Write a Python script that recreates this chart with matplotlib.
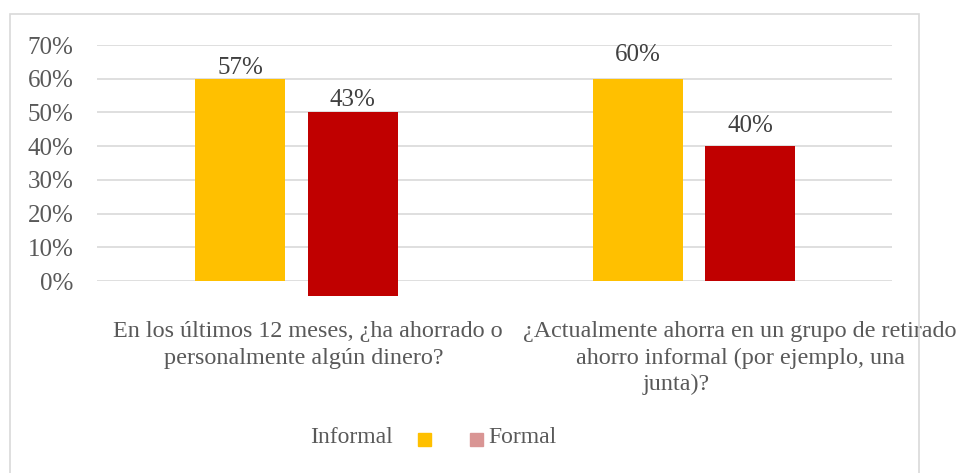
import matplotlib.pyplot as plt
from matplotlib.patches import Rectangle
from matplotlib.transforms import blended_transform_factory

# data (bar tops as drawn, labels as printed)
categories = ["En los últimos 12 meses, ¿ha ahorrado o\npersonalmente algún dinero?",
              "¿Actualmente ahorra en un grupo de retirado\nahorro informal (por ejemplo, una\njunta)?"]
informal = [0.60, 0.60]
formal = [0.50, 0.40]
formal_base = [-0.045, 0.0]
informal_labels = ['57%', '60%']
formal_labels = ['43%', '40%']
yticks = [0, 0.1, 0.2, 0.3, 0.4, 0.5, 0.6, 0.7]

yellow = '#FFC000'
red = '#C00000'
pink = '#D99594'
grid_c = '#D9D9D9'
txt_c = '#595959'
font = 'Liberation Serif'

fig = plt.figure(figsize=(9.57, 4.73), dpi=100)
ax = fig.add_axes([97/957, 1-281/473, 795/957, 236/473])

x = list(range(len(categories)))
w = 0.226
b1 = ax.bar([i - 0.14 for i in x], informal, w, color=yellow, zorder=3, clip_on=False)
b2 = ax.bar([i + 0.143 for i in x], [t - b for t, b in zip(formal, formal_base)], w,
            bottom=formal_base, color=red, zorder=3, clip_on=False)

# value labels (offsets in pixels above bar top, as in the reference)
off1 = [5, 18]
off2 = [6, 14]
for i, r in enumerate(b1):
    ax.annotate(informal_labels[i], (r.get_x() + r.get_width()/2, r.get_y() + r.get_height()),
                xytext=(0, off1[i]), textcoords='offset pixels', ha='center', va='baseline',
                fontsize=18, family=font, color='#404040')
for i, r in enumerate(b2):
    ax.annotate(formal_labels[i], (r.get_x() + r.get_width()/2, r.get_y() + r.get_height()),
                xytext=(0, off2[i]), textcoords='offset pixels', ha='center', va='baseline',
                fontsize=18, family=font, color='#404040')

ax.set_xlim(-0.5, 1.5)
ax.set_ylim(0, 0.7)
ax.set_yticks(yticks)
ax.set_yticklabels(['{:.0f}%'.format(v*100) for v in yticks], fontsize=18, family=font, color=txt_c)
ax.tick_params(axis='y', length=0, pad=17)
ax.set_xticks([])
for s in ax.spines.values():
    s.set_visible(False)
ax.grid(axis='y', color=grid_c, linewidth=1.2, zorder=0)

# category labels, line by line
tr = blended_transform_factory(ax.transData, fig.transFigure)
cat_x = [[0.03, 0.02], [1.118, 1.118, 0.957]]
for i, cat in enumerate(categories):
    for j, line in enumerate(cat.split('\n')):
        ax.text(cat_x[i][j], 1 - (337 + 26.5*j)/473, line, transform=tr, ha='center', va='baseline',
                fontsize=17.4, family=font, color=txt_c, clip_on=False)

# legend, drawn by hand to match its odd layout
fig.text(393/957, 1-443/473, 'Informal', ha='right', va='baseline', fontsize=17, family=font, color=txt_c)
fig.patches.append(Rectangle((418/957, 1-446/473), 13/957, 13/473, color=yellow, transform=fig.transFigure))
fig.patches.append(Rectangle((470/957, 1-446/473), 13/957, 13/473, color=pink, transform=fig.transFigure))
fig.text(488/957, 1-443/473, 'Formal', ha='left', va='baseline', fontsize=17, family=font, color=txt_c)

# chart frame
fig.patches.append(Rectangle((10/957, -0.02), 909/957, 1.02-14/473, fill=False, edgecolor=grid_c,
                             linewidth=1.2, transform=fig.transFigure, zorder=0))

fig.savefig('out.png', dpi=100)
